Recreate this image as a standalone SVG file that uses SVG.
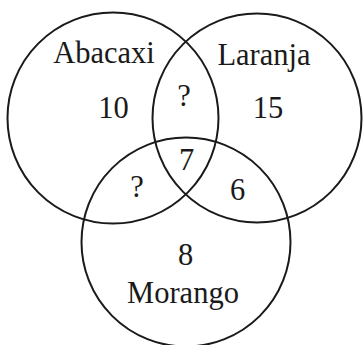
<svg xmlns="http://www.w3.org/2000/svg" width="363" height="345" viewBox="0 0 363 345">
<style>
.c{fill:none;stroke:#1a1a1a;stroke-width:2}
.t{font-family:'Liberation Serif','Times New Roman',serif;font-size:30.5px;fill:#1a1a1a;text-anchor:middle}
</style>
<rect width="363" height="345" fill="#fff"/>
<g id="abacaxi"><circle class="c" cx="113" cy="118" r="105.5"/><text class="t" x="104" y="63">Abacaxi</text></g>
<g id="laranja"><circle class="c" cx="257" cy="118" r="104.5"/><text class="t" x="264" y="65">Laranja</text></g>
<g id="morango"><circle class="c" cx="186" cy="242" r="104.5"/><text class="t" x="183" y="303">Morango</text></g>
<g id="regions">
<text class="t" x="113.5" y="118">10</text>
<text class="t" x="268" y="118">15</text>
<text class="t" x="184" y="106">?</text>
<text class="t" x="186.5" y="170">7</text>
<text class="t" x="137" y="197">?</text>
<text class="t" x="237.5" y="200">6</text>
<text class="t" x="185.5" y="265">8</text>
</g>
<g id="connectors"/>
</svg>
